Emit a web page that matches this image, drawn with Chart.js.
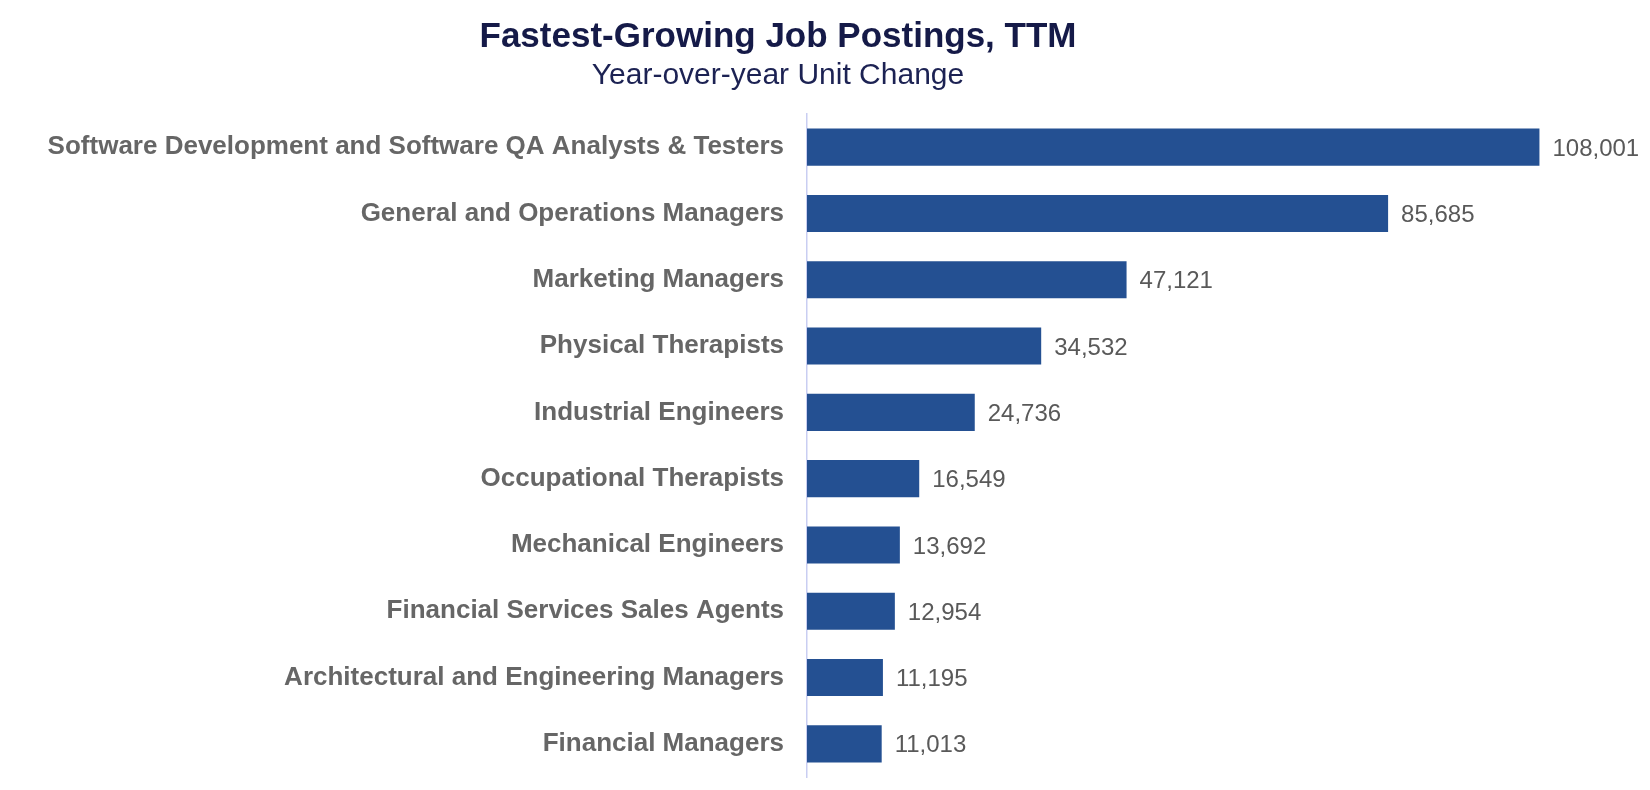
<!DOCTYPE html>
<html>
<head>
<meta charset="utf-8">
<script src="https://cdn.jsdelivr.net/npm/chart.js@4.4.1/dist/chart.umd.min.js"></script>
<style>
  html, body { margin: 0; padding: 0; background: #fff; }
  #wrap { width: 1650px; height: 790px; position: relative; }
</style>
</head>
<body>
<div id="wrap"><canvas id="jobs-chart"></canvas></div>
<script>
// data
const categories = [
    'Software Development and Software QA Analysts & Testers',
    'General and Operations Managers',
    'Marketing Managers',
    'Physical Therapists',
    'Industrial Engineers',
    'Occupational Therapists',
    'Mechanical Engineers',
    'Financial Services Sales Agents',
    'Architectural and Engineering Managers',
    'Financial Managers'
];
const unitChange = [108001, 85685, 47121, 34532, 24736, 16549, 13692, 12954, 11195, 11013];
const chartTitle = 'Fastest-Growing Job Postings, TTM';
const chartSubtitle = 'Year-over-year Unit Change';

const FONT = '"Liberation Sans", Arial, Helvetica, sans-serif';

// title + subtitle, centred over the plot like the original
const headerPlugin = {
    id: 'header',
    afterDraw(chart) {
        const ctx = chart.ctx;
        ctx.save();
        ctx.textAlign = 'center';
        ctx.textBaseline = 'middle';
        ctx.fillStyle = '#151a48';
        ctx.font = 'bold 35px ' + FONT;
        ctx.fillText(chartTitle, 778, 37);
        ctx.fillStyle = '#1c2253';
        ctx.font = '30px ' + FONT;
        ctx.fillText(chartSubtitle, 778, 76);
        ctx.restore();
    }
};

// value labels at the end of each bar
const valueLabels = {
    id: 'valueLabels',
    afterDatasetsDraw(chart) {
        const ctx = chart.ctx;
        const meta = chart.getDatasetMeta(0);
        ctx.save();
        ctx.font = '24px ' + FONT;
        ctx.fillStyle = '#595959';
        ctx.textAlign = 'left';
        ctx.textBaseline = 'middle';
        meta.data.forEach(function (bar, i) {
            ctx.fillText(unitChange[i].toLocaleString('en-US'), bar.x + 13, bar.y + 2);
        });
        ctx.restore();
    }
};

const ctx = document.getElementById('jobs-chart').getContext('2d');
new Chart(ctx, {
    type: 'bar',
    data: {
        labels: categories,
        datasets: [{
            data: unitChange,
            backgroundColor: '#245092',
            borderWidth: 0,
            categoryPercentage: 1,
            barPercentage: 0.56
        }]
    },
    options: {
        indexAxis: 'y',
        responsive: true,
        maintainAspectRatio: false,
        animation: false,
        layout: {
            padding: { top: 114, bottom: 13, left: 0, right: 97 }
        },
        plugins: {
            legend: { display: false },
            tooltip: { enabled: false }
        },
        scales: {
            x: {
                display: false,
                min: 0,
                max: 110000
            },
            y: {
                afterFit: function (scale) {
                    // fixed label column, and no extra room above/below for the labels
                    scale.width = 807;
                    scale.paddingTop = 0;
                    scale.paddingBottom = 0;
                },
                grid: { display: false, drawTicks: false },
                border: { display: true, color: '#c9cef2', width: 1.5 },
                ticks: {
                    padding: 23,
                    color: '#666666',
                    font: { family: FONT, size: 26, weight: 'bold' }
                }
            }
        }
    },
    plugins: [headerPlugin, valueLabels]
});
</script>
</body>
</html>
